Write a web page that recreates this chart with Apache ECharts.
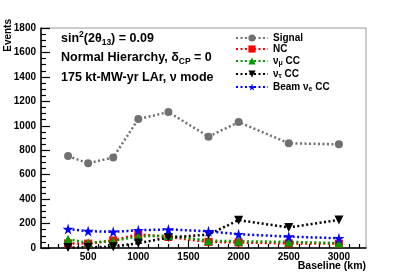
<!DOCTYPE html>
<html><head><meta charset="utf-8">
<script src="https://cdn.jsdelivr.net/npm/echarts@6/dist/echarts.min.js"></script>
<style>html,body{margin:0;padding:0;background:#fff}#c{width:407px;height:276px}</style>
</head><body><div id="c"></div>
<script>
const baselines = [300, 500, 750, 1000, 1300, 1700, 2000, 2500, 3000];
const signal = [752, 693, 740, 1055, 1112, 911, 1030, 857, 848];
const nc = [38, 36, 62, 112, 90, 50, 45, 38, 36];
const numuCC = [72, 42, 58, 95, 102, 60, 55, 50, 40];
const nutauCC = [4, 6, 10, 40, 85, 110, 228, 168, 230];
const beamNueCC = [155, 138, 132, 145, 152, 137, 113, 93, 80];
const xMajorTicks = [500, 1000, 1500, 2000, 2500, 3000];
const xMinorTicks = [100,200,300,400,600,700,800,900,1100,1200,1300,1400,1600,1700,1800,1900,2100,2200,2300,2400,2600,2700,2800,2900,3100,3200];
const yMajorTicks = [0, 200, 400, 600, 800, 1000, 1200, 1400, 1600, 1800];
const yMinorTicks = [50,100,150,250,300,350,450,500,550,650,700,750,850,900,950,1050,1100,1150,1250,1300,1350,1450,1500,1550,1650,1700,1750];

const FONT = 'Liberation Sans';
const STAR = 'path://M50,0 L61,35 L98,35 L68,57 L79,91 L50,70 L21,91 L32,57 L2,35 L39,35 Z';
const DOWN = 'path://M0,0 L10,0 L5,9 Z';
const pair = arr => baselines.map((x, i) => [x, arr[i]]);

const chart = echarts.init(document.getElementById('c'), null, {renderer: 'canvas'});
const mk = (name, data, color, symbol, size) => ({
  name, type: 'line', data: pair(data), symbol, symbolSize: size,
  lineStyle: {color, width: 2.5, type: [2, 2.5]},
  itemStyle: {color}, animation: false, z: 3
});
const xAxisBase = {type: 'value', min: 30, max: 3270, gridIndex: 0};
const yAxisBase = {type: 'value', min: 0, max: 1800};
const lab = v => String(v);
chart.setOption({
  animation: false,
  grid: {left: 41, right: 41, top: 28, bottom: 28, show: true, borderColor: '#9a9a9a', borderWidth: 1},
  xAxis: [
    Object.assign({}, xAxisBase, {
      axisLine: {show: true, lineStyle: {color: '#000', width: 1.5}},
      axisTick: {show: true, inside: true, length: 8, customValues: xMajorTicks, lineStyle: {color: '#000', width: 1.2}},
      axisLabel: {show: true, customValues: xMajorTicks, formatter: lab, color: '#000', fontFamily: FONT, fontWeight: 'bold', fontSize: 10, margin: 4},
      splitLine: {show: false}
    }),
    Object.assign({}, xAxisBase, {
      axisLine: {show: false},
      axisTick: {show: true, inside: true, length: 4, customValues: xMinorTicks, lineStyle: {color: '#000', width: 1.2}},
      axisLabel: {show: false}, splitLine: {show: false}, position: 'bottom'
    })
  ],
  yAxis: [
    Object.assign({}, yAxisBase, {
      axisLine: {show: true, lineStyle: {color: '#000', width: 1.5}},
      axisTick: {show: true, inside: true, length: 9, customValues: yMajorTicks, lineStyle: {color: '#000', width: 1.2}},
      axisLabel: {show: true, customValues: yMajorTicks, formatter: lab, color: '#000', fontFamily: FONT, fontWeight: 'bold', fontSize: 10, margin: 5},
      splitLine: {show: false}
    }),
    Object.assign({}, yAxisBase, {
      position: 'left',
      axisLine: {show: false},
      axisTick: {show: true, inside: true, length: 5, customValues: yMinorTicks, lineStyle: {color: '#000', width: 1.2}},
      axisLabel: {show: false}, splitLine: {show: false}
    })
  ],
  legend: {
    orient: 'vertical', left: 230, top: 28, itemWidth: 32, itemHeight: 9, itemGap: 1,
    data: ['Signal', 'NC', 'numu', 'nutau', 'beam'],
    formatter: n => ({
      Signal: '{b|Signal}', NC: '{b|NC}', numu: '{b|ν}{s|μ}{b| CC}',
      nutau: '{b|ν}{s|τ}{b| CC}', beam: '{b|Beam ν}{s|e}{b| CC}'
    })[n],
    textStyle: {rich: {
      b: {fontSize: 10, fontWeight: 'bold', fontFamily: FONT, color: '#000', lineHeight: 11},
      s: {fontSize: 7, fontWeight: 'bold', fontFamily: FONT, color: '#000', lineHeight: 7, padding: [5, 0, 0, 0]}
    }}
  },
  graphic: [
    {type: 'text', x: 61, y: 39, style: {
      text: '{a|sin}{sp|2}{a|(2θ}{sb|13}{a|) = 0.09}', verticalAlign: 'middle',
      rich: {a: {fontSize: 12.5, fontWeight: 'bold', fontFamily: FONT, fill: '#000'},
        sp: {fontSize: 8.5, fontWeight: 'bold', fontFamily: FONT, padding: [0, 0, 8, 0]},
        sb: {fontSize: 8.5, fontWeight: 'bold', fontFamily: FONT, padding: [8, 0, 0, 0]}}}},
    {type: 'text', x: 61, y: 58, style: {
      text: '{a|Normal Hierarchy, δ}{sb|CP}{a| = 0}', verticalAlign: 'middle',
      rich: {a: {fontSize: 12.5, fontWeight: 'bold', fontFamily: FONT},
        sb: {fontSize: 8.5, fontWeight: 'bold', fontFamily: FONT, padding: [8, 0, 0, 0]}}}},
    {type: 'text', x: 61, y: 78, style: {
      text: '175 kt-MW-yr LAr, ν mode', verticalAlign: 'middle',
      fontSize: 12.5, fontWeight: 'bold', fontFamily: FONT}},
    {type: 'text', x: 8, y: 19, rotation: Math.PI / 2, style: {
      text: 'Events', align: 'right', verticalAlign: 'middle',
      fontSize: 10, fontWeight: 'bold', fontFamily: FONT}},
    {type: 'text', x: 366, y: 266, style: {
      text: 'Baseline (km)', align: 'right', verticalAlign: 'middle',
      fontSize: 10.5, fontWeight: 'bold', fontFamily: FONT}}
  ],
  series: [
    mk('Signal', signal, '#707070', 'circle', 8),
    mk('NC', nc, '#ff0000', 'rect', 8),
    mk('numu', numuCC, '#009900', 'triangle', 9),
    mk('nutau', nutauCC, '#000000', DOWN, 9),
    mk('beam', beamNueCC, '#0000ff', STAR, 11)
  ]
});
</script></body></html>
